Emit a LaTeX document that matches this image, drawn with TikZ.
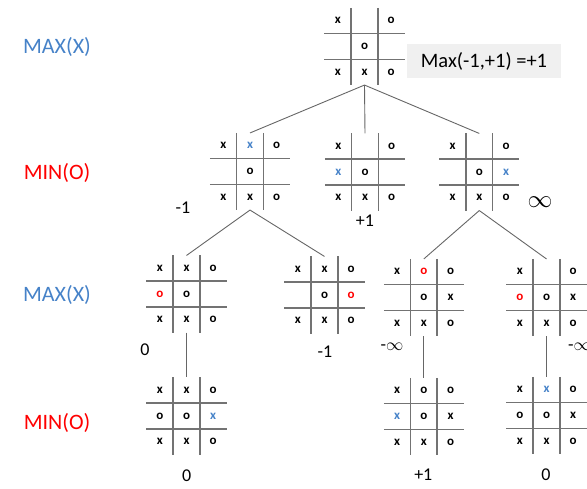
\documentclass[tikz,border=0pt]{standalone}
\usepackage{fontspec}
\setmainfont{Carlito}
\usetikzlibrary{matrix}
\definecolor{maxblue}{RGB}{70,130,200}
\definecolor{minred}{RGB}{255,0,0}
\newcommand{\blx}{\textcolor{maxblue}{x}}
\newcommand{\rdo}{\textcolor{minred}{o}}

\begin{document}
\begin{tikzpicture}[x=1pt,y=-1pt,
    cell/.style={minimum width=26.7pt, minimum height=25.7pt, inner sep=0pt, outer sep=0pt,
        anchor=center, font=\fontsize{13}{13}\selectfont\bfseries},
    board/.style={matrix of nodes, nodes in empty cells, inner sep=0pt, outer sep=0pt,
        column sep=0pt, row sep=0pt, nodes={cell}},
    gridline/.style={draw=black!55, line width=1.6pt},
    branch/.style={draw=black!60, line width=0.9pt},
    level/.style={font=\fontsize{22}{22}\selectfont},
    val/.style={font=\fontsize{18}{18}\selectfont, inner sep=0pt}]
    \useasboundingbox (0,0) rectangle (587,488);

    % levels
    \node[level, text=maxblue] (l1) at (57,47) {MAX(X)};
    \node[level, text=minred] (l2) at (57,173) {MIN(O)};
    \node[level, text=maxblue] (l3) at (57,295) {MAX(X)};
    \node[level, text=minred] (l4) at (57,423) {MIN(O)};

    % boards
    \matrix (b0) [board] at (364.5,46.5) { x & & o \\ & o & \\ x & x & o \\ };
    \matrix (b1) [board] at (250,171.5) { x & \blx & o \\ & o & \\ x & x & o \\ };
    \matrix (b2) [board] at (365,172) { x & & o \\ \blx & o & \\ x & x & o \\ };
    \matrix (b3) [board] at (479.3,172) { x & & o \\ & o & \blx \\ x & x & o \\ };
    \matrix (b11) [board] at (186.5,294) { x & x & o \\ \rdo & o & \\ x & x & o \\ };
    \matrix (b12) [board] at (324.5,295) { x & x & o \\ & o & \rdo \\ x & x & o \\ };
    \matrix (b31) [board] at (423.8,297.5) { x & \rdo & o \\ & o & x \\ x & x & o \\ };
    \matrix (b32) [board] at (546.5,297.5) { x & & o \\ \rdo & o & x \\ x & x & o \\ };
    \matrix (b111) [board] at (186.5,416) { x & x & o \\ o & o & \blx \\ x & x & o \\ };
    \matrix (b311) [board] at (423.8,416.5) { x & o & o \\ \blx & o & x \\ x & x & o \\ };
    \matrix (b321) [board] at (546.5,415.5) { x & \blx & o \\ o & o & x \\ x & x & o \\ };

    \foreach \b in {b0,b1,b2,b3,b11,b12,b31,b32,b111,b311,b321} {
        \draw[gridline] (\b-1-2.north west) -- (\b-3-2.south west)
            (\b-1-3.north west) -- (\b-3-3.south west)
            (\b-2-1.north west) -- (\b-2-3.north east)
            (\b-3-1.north west) -- (\b-3-3.north east);
    }

    % tree
    \draw[branch] (b0.south) -- (b1.north) (b0.south) -- (b2.north) (b0.south) -- (b3.north);
    \draw[branch] (b1.south) -- (b11.north) (b1.south) -- (b12.north);
    \draw[branch] (b3.south) -- (b31.north) (b3.south) -- (b32.north);
    \draw[branch] (b11.south) -- (b111.north);
    \draw[branch] (b31.south) -- (b311.north);
    \draw[branch] (b32.south) -- (b321.north);

    % values
    \node[fill=black!6, minimum width=154pt, minimum height=34pt, font=\fontsize{20.5}{20.5}\selectfont]
        (res) at (484,61) {Max(-1,+1) =+1};
    \node[val] (v1) at (183,208) {-1};
    \node[val] (v2) at (365,221) {+1};
    \node[val, font=\fontsize{24}{24}\selectfont] (v3) at (540,202) {$\infty$};
    \node[val] (v11) at (145,350) {0};
    \node[val] (v12) at (325,352) {-1};
    \node[val] (v31) at (392,347) {-$\infty$};
    \node[val, anchor=west] (v32) at (568,347) {-$\infty$};
    \node[val] (v111) at (186.7,476) {0};
    \node[val] (v311) at (423.3,475) {+1};
    \node[val] (v321) at (546,475) {0};
\end{tikzpicture}
\end{document}
